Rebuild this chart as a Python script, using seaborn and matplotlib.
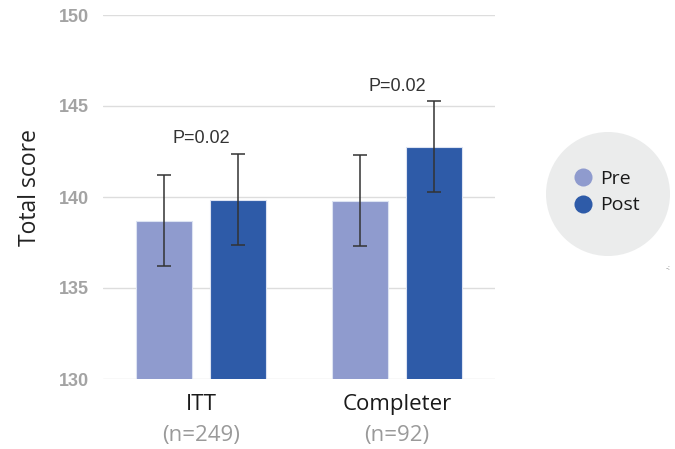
import matplotlib
matplotlib.use("Agg")
import matplotlib.pyplot as plt
import seaborn as sns
import pandas as pd
from matplotlib.lines import Line2D
from matplotlib.patches import Ellipse

categories = ["ITT", "Completer"]
n_labels = ["(n=249)", "(n=92)"]
phases = ["Pre", "Post"]
pre_values = [138.7, 139.8]
post_values = [139.85, 142.75]
pre_err = [2.5, 2.5]
post_err = [2.5, 2.5]
p_labels = ["P=0.02", "P=0.02"]

colors = {"Pre": "#8F9BCE", "Post": "#2E5BA8"}

df = pd.DataFrame({
    "group": categories * 2,
    "phase": ["Pre"] * 2 + ["Post"] * 2,
    "score": pre_values + post_values,
    "err": pre_err + post_err,
})

sns.set_theme(style="white")
plt.rcParams["font.family"] = ["Liberation Sans", "DejaVu Sans"]
label_font = ["Open Sans", "DejaVu Sans"]

fig = plt.figure(figsize=(6.75, 4.49), dpi=100)
ax = fig.add_axes([103 / 675, 1 - 379 / 449, 392 / 675, 364 / 449])

sns.barplot(data=df, x="group", y="score", hue="phase", order=categories,
            hue_order=phases, palette=colors, saturation=1, width=0.755, gap=0.243,
            errorbar=None, edgecolor="#DCE3F2", linewidth=0.8, ax=ax,
            legend=False, zorder=3)

# error bars at bar centres
for container, phase in zip(ax.containers, phases):
    sub = df[df.phase == phase].set_index("group").loc[categories]
    xs = [b.get_x() + b.get_width() / 2 for b in container]
    ax.errorbar(xs, sub["score"], yerr=sub["err"], fmt="none",
                ecolor="#333333", elinewidth=1.1, capsize=5, capthick=1.1, zorder=4)

ax.set_ylim(130, 150)
ax.set_xlim(-0.5, 1.5)
ax.set_yticks([130, 135, 140, 145, 150])
ax.yaxis.grid(True, color="#DDDDDD", linewidth=1.0, zorder=0)
ax.set_axisbelow(True)
for s in ax.spines.values():
    s.set_visible(False)
ax.tick_params(axis="y", length=0, pad=10, labelsize=13, labelcolor="#A3A3A3")
for lab in ax.get_yticklabels():
    lab.set_fontweight("bold")
ax.tick_params(axis="x", length=0, pad=11, labelsize=16, labelcolor="#1A1A1A")
ax.set_xticks(range(len(categories)))
ax.set_xticklabels(categories, family=label_font)
ax.set_xlabel("")
ax.set_ylabel("Total score", fontsize=16.5, color="#222222", family=label_font)
ax.yaxis.set_label_coords(-0.156, 0.525)

# n labels below category labels
for i, lab in enumerate(n_labels):
    ax.annotate(lab, xy=(i, 130), xycoords="data", xytext=(0, -40.5),
                textcoords="offset points", ha="center", va="center",
                fontsize=16, color="#9A9A9A", family=label_font)

# p-value labels above the higher error bar
for i, p in enumerate(p_labels):
    top = max(pre_values[i] + pre_err[i], post_values[i] + post_err[i])
    ax.annotate(p, xy=(i, top), xytext=(0, 11), textcoords="offset points",
                ha="center", va="center", fontsize=13, color="#333333")

# legend with circular background
circle = Ellipse((608 / 675, 1 - 194 / 449), 124 / 675, 124 / 449,
                 transform=fig.transFigure, facecolor="#EBECEC",
                 edgecolor="none", zorder=0)
fig.patches.append(circle)
handles = [Line2D([0], [0], marker="o", linestyle="none", markersize=13,
                  markerfacecolor=colors[p], markeredgecolor="none") for p in phases]
fig.legend(handles, phases, loc="center left",
           bbox_to_anchor=(564 / 675, 1 - 192 / 449), frameon=False,
           prop={"family": label_font, "size": 14},
           handletextpad=0.25, labelspacing=0.45, handlelength=1.2,
           borderaxespad=0, labelcolor="#1A1A1A")

fig.text(668 / 675, 1 - 268 / 449, "-:", fontsize=6, color="#888888",
         ha="center", va="center")

fig.savefig("out.png", dpi=100)
